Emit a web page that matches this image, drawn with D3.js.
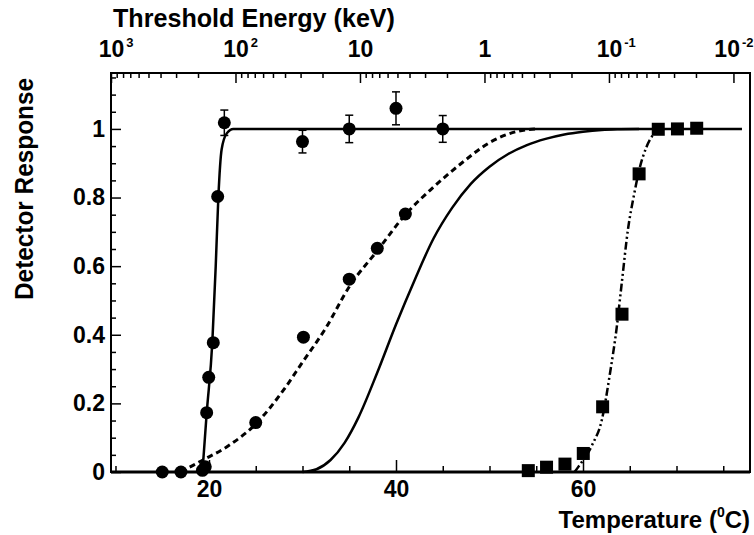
<!DOCTYPE html>
<html>
<head>
<meta charset="utf-8">
<script src="https://cdn.jsdelivr.net/npm/d3@7"></script>
<style>
  body { margin: 0; background: #fff; }
  svg text { font-family: "Liberation Sans", Arial, sans-serif; font-weight: bold; fill: #000; }
</style>
</head>
<body>
<script>
// steep response (filled circles, solid fit)
let steepTemp = [15, 17, 19.3, 19.75, 19.97, 20.46, 20.93, 21.64, 30, 35, 40, 45];
let steepResp = [0, 0, 0.005, 0.173, 0.276, 0.377, 0.803, 1.018, 0.963, 1.0, 1.06, 1.0];
let steepErr  = [0, 0, 0, 0, 0, 0, 0, 0.037, 0.033, 0.04, 0.048, 0.039];

// slow response (filled circles, dashed fit)
let slowTemp = [19.6, 25, 30.1, 35, 38, 41];
let slowResp = [0.015, 0.144, 0.393, 0.562, 0.652, 0.752];

// high temperature set (squares, dash-dot fit)
let sqTemp = [54.15, 56.1, 58.07, 60.03, 62.1, 64.17, 66.0, 68.05, 70.1, 72.16];
let sqResp = [0.004, 0.014, 0.023, 0.054, 0.19, 0.46, 0.869, 0.999, 1.0, 1.002];

// fit curves
let steepFitT = [19.3, 19.75, 20.36, 20.72, 21.0, 21.35, 21.9, 22.6, 30, 77];
let steepFitR = [0, 0.17, 0.38, 0.6, 0.8, 0.94, 0.987, 1.0, 1.0, 1.0];
let slowFitT = [17, 19, 22, 25, 28, 30, 32.5, 35, 38, 41, 44, 47, 50, 53, 55];
let slowFitR = [0, 0.03, 0.075, 0.14, 0.24, 0.32, 0.42, 0.54, 0.645, 0.75, 0.83, 0.9, 0.96, 0.993, 1.0];
let broadFitT = [30, 31.5, 33, 34.5, 36, 38, 40, 42, 44, 46, 48, 50, 52, 54, 56, 58, 60, 62, 64, 66];
let broadFitR = [0, 0.008, 0.035, 0.085, 0.16, 0.29, 0.43, 0.56, 0.68, 0.77, 0.84, 0.89, 0.927, 0.953, 0.971, 0.984, 0.992, 0.997, 0.999, 1.0];
let sqFitT = [59.1, 59.5, 61, 62, 62.9, 63.6, 64.1, 64.85, 65.4, 66.1, 66.8, 67.5, 68.2];
let sqFitR = [0, 0.015, 0.08, 0.15, 0.29, 0.42, 0.54, 0.715, 0.80, 0.89, 0.948, 0.983, 1.0];

// axis ticks and labels
let tempMajor = [20, 40, 60];
let tempMinor = [10, 15, 25, 30, 35, 45, 50, 55, 65, 70, 75];
let respMajor = [0, 0.2, 0.4, 0.6, 0.8, 1];
let respLabels = ["0", "0.2", "0.4", "0.6", "0.8", "1"];
let energyMajor = [1000, 100, 10, 1, 0.1, 0.01];
let energyBase = ["10", "10", "10", "1", "10", "10"];
let energyExp = ["3", "2", "", "", "-1", "-2"];

let width = 754, height = 535;
let plotLeft = 111, plotRight = 750, plotTop = 73, plotBottom = 472;

let svg = d3.select("body").append("svg")
  .attr("width", width)
  .attr("height", height);

let x = d3.scaleLinear().domain([9.52, 77.86]).range([plotLeft, plotRight]);
let xTop = d3.scaleLog().domain([1000, Math.pow(10, -2.133)]).range([plotLeft, plotRight]);
let y = d3.scaleLinear().domain([0, 1.163]).range([plotBottom, plotTop]);

// minor ticks
let respMinor = d3.range(0, 1.16, 0.05).filter(v => Math.abs(v * 5 - Math.round(v * 5)) > 0.01);
let energyMinor = [];
[100, 10, 1, 0.1, 0.01].forEach(function(d) {
  for (let k = 2; k <= 9; k++) energyMinor.push(d * k);
});

function axisStyle(g) {
  g.select(".domain").remove();
  g.selectAll(".tick line").attr("stroke", "#000").attr("stroke-width", 1.5);
  g.attr("font-family", null).attr("font-size", null);
}

// bottom axis
svg.append("g").attr("transform", `translate(0,${plotBottom})`)
  .call(d3.axisBottom(x).tickValues(tempMinor).tickSizeInner(-6).tickFormat(""))
  .call(axisStyle);
let gb = svg.append("g").attr("transform", `translate(0,${plotBottom})`)
  .call(d3.axisBottom(x).tickValues(tempMajor).tickSizeInner(-12).tickPadding(9).tickFormat(d3.format("d")))
  .call(axisStyle);
gb.selectAll(".tick text").attr("font-size", 23).attr("fill", "#000");

// left axis
svg.append("g").attr("transform", `translate(${plotLeft},0)`)
  .call(d3.axisLeft(y).tickValues(respMinor).tickSizeInner(-5).tickFormat(""))
  .call(axisStyle);
let gl = svg.append("g").attr("transform", `translate(${plotLeft},0)`)
  .call(d3.axisLeft(y).tickValues(respMajor).tickSizeInner(-10).tickPadding(6)
    .tickFormat((d, i) => respLabels[i]))
  .call(axisStyle);
gl.selectAll(".tick text").attr("font-size", 23).attr("fill", "#000");

// top axis, labels as 10 with a raised exponent
svg.append("g").attr("transform", `translate(0,${plotTop})`)
  .call(d3.axisTop(xTop).tickValues(energyMinor).tickSizeInner(-5).tickFormat(""))
  .call(axisStyle);
let gt = svg.append("g").attr("transform", `translate(0,${plotTop})`)
  .call(d3.axisTop(xTop).tickValues(energyMajor).tickSizeInner(-10).tickFormat(""))
  .call(axisStyle);
gt.selectAll(".tick text").remove();
gt.selectAll(".tick").each(function(d, i) {
  let t = d3.select(this);
  let txt = t.append("text").attr("y", -16).attr("text-anchor", "start").attr("font-size", 23);
  let base = txt.append("tspan").text(energyBase[i]);
  let w = base.node().getComputedTextLength();
  let shift = -w / 2;
  if (energyExp[i]) {
    let ex = txt.append("tspan").attr("font-size", 13).attr("dx", 2).attr("dy", -10).text(energyExp[i]);
    // keep the last label inside the picture
    let end = xTop(d) + w / 2 + 2 + ex.node().getComputedTextLength();
    if (end > width - 1) shift -= end - (width - 1);
  }
  txt.attr("x", shift);
});

// frame
svg.append("rect")
  .attr("x", plotLeft).attr("y", plotTop)
  .attr("width", plotRight - plotLeft).attr("height", plotBottom - plotTop)
  .attr("fill", "none").attr("stroke", "#000").attr("stroke-width", 2);
svg.append("line")
  .attr("x1", plotLeft).attr("x2", plotRight).attr("y1", plotBottom).attr("y2", plotBottom)
  .attr("stroke", "#000").attr("stroke-width", 3);

// titles
svg.append("text").attr("x", 113).attr("y", 27).attr("font-size", 25)
  .attr("textLength", 282).attr("lengthAdjust", "spacingAndGlyphs")
  .text("Threshold Energy (keV)");

svg.append("text")
  .attr("transform", "translate(33,300) rotate(-90)")
  .attr("font-size", 25)
  .attr("textLength", 222).attr("lengthAdjust", "spacingAndGlyphs")
  .text("Detector Response");

let xt = svg.append("text").attr("x", 750).attr("y", 528)
  .attr("text-anchor", "end").attr("font-size", 24);
xt.append("tspan").text("Temperature (");
xt.append("tspan").attr("font-size", 14).attr("dy", -11).text("0");
xt.append("tspan").attr("dy", 11).text("C)");

// fit curves
let line = d3.line()
  .x(d => x(d[0]))
  .y(d => y(d[1]))
  .curve(d3.curveMonotoneX);

function drawFit(ts, rs, dash, w) {
  svg.append("path")
    .datum(ts.map((t, i) => [t, rs[i]]))
    .attr("d", line)
    .attr("fill", "none")
    .attr("stroke", "#000")
    .attr("stroke-width", w)
    .attr("stroke-dasharray", dash);
}
drawFit(broadFitT, broadFitR, null, 2.5);
drawFit(slowFitT, slowFitR, "6,4", 3);
drawFit(sqFitT, sqFitR, "8,3,2,3,2,3", 2.5);
drawFit(steepFitT, steepFitR, null, 2.5);

// error bars
let errData = steepTemp.map((t, i) => ({t: t, r: steepResp[i], e: steepErr[i]})).filter(d => d.e > 0);
let eb = svg.append("g").attr("stroke", "#000").attr("stroke-width", 1.5);
errData.forEach(function(d) {
  eb.append("line").attr("x1", x(d.t)).attr("x2", x(d.t))
    .attr("y1", y(d.r - d.e)).attr("y2", y(d.r + d.e));
  [d.r - d.e, d.r + d.e].forEach(function(v) {
    eb.append("line").attr("x1", x(d.t) - 4).attr("x2", x(d.t) + 4)
      .attr("y1", y(v)).attr("y2", y(v));
  });
});

// markers
svg.append("g").selectAll("circle.steep")
  .data(steepTemp.map((t, i) => [t, steepResp[i]]))
  .enter().append("circle")
  .attr("cx", d => x(d[0])).attr("cy", d => y(d[1])).attr("r", 6.5)
  .attr("fill", "#000");

svg.append("g").selectAll("circle.slow")
  .data(slowTemp.map((t, i) => [t, slowResp[i]]))
  .enter().append("circle")
  .attr("cx", d => x(d[0])).attr("cy", d => y(d[1])).attr("r", 6.5)
  .attr("fill", "#000");

svg.append("g").selectAll("rect.sq")
  .data(sqTemp.map((t, i) => [t, sqResp[i]]))
  .enter().append("rect")
  .attr("x", d => x(d[0]) - 6.5).attr("y", d => y(d[1]) - 6.5)
  .attr("width", 13).attr("height", 13)
  .attr("fill", "#000");
</script>
</body>
</html>
